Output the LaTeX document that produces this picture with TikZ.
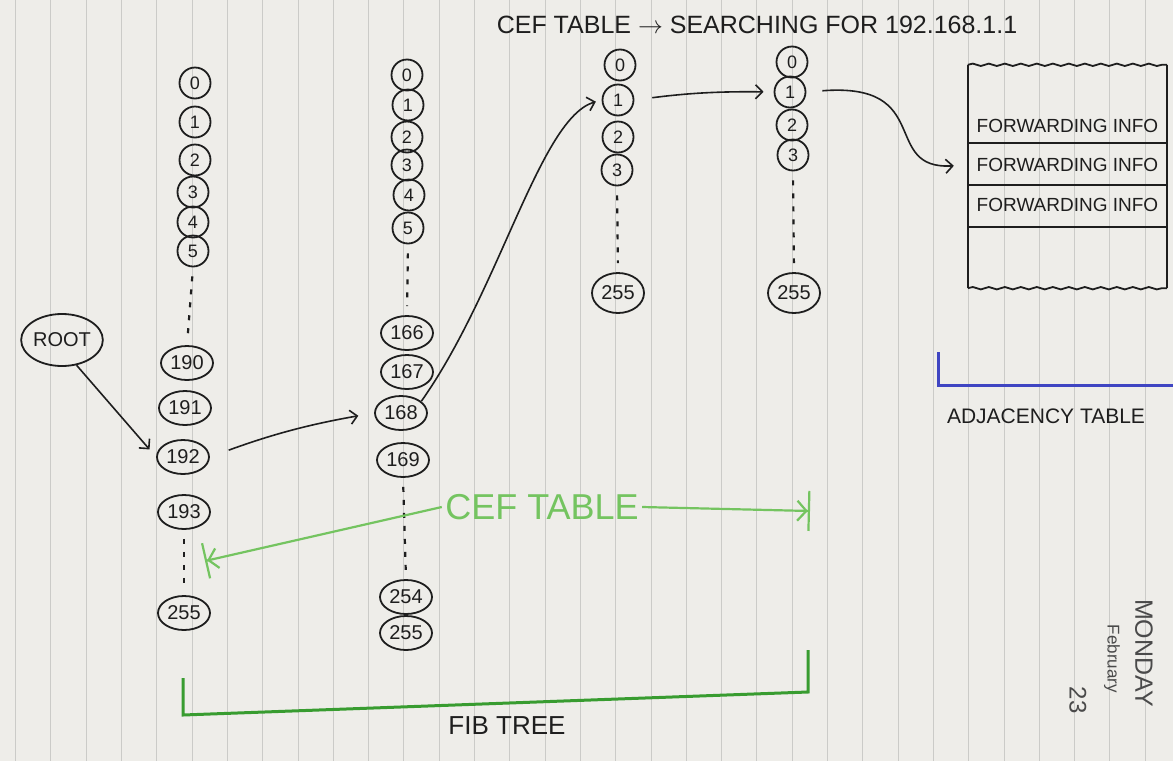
\documentclass[tikz,border=0pt]{standalone}
\usepackage{fontspec}
\setmainfont{Liberation Sans}
\usepackage{tikz}
\usetikzlibrary{shapes.geometric, arrows.meta, positioning, decorations.pathmorphing}
\definecolor{Paper}{HTML}{EEEDE9}
\definecolor{Rule}{HTML}{CBCBC8}
\definecolor{Ink}{HTML}{1E1E1E}
\definecolor{CEF_Green}{HTML}{74C460}
\definecolor{FIB_Green}{HTML}{389C30}
\definecolor{ADJ_Blue}{HTML}{3F45C2}
\definecolor{Print_Gray}{HTML}{4A4A4A}
\newcommand{\hand}[1]{\fontsize{#1}{#1}\selectfont}

\begin{document}
\begin{tikzpicture}[x=1pt, y=-1pt,
  slot/.style={ellipse, draw=Ink, line width=1.8pt, inner sep=0pt, minimum width=31pt, minimum height=31pt, text=Ink, font=\hand{18}},
  bigslot/.style={slot, minimum width=52pt, minimum height=34pt, font=\hand{20}},
  gapline/.style={Ink, line width=2.2pt, dash pattern=on 5pt off 8pt, shorten <=9pt, shorten >=9pt},
  link/.style={Ink, line width=1.6pt, -{Straight Barb[length=7pt,width=14pt]}},
  cefpen/.style={CEF_Green, line width=2.2pt},
  rowtext/.style={text=Ink, font=\hand{19}, minimum width=199pt, inner sep=0pt},
  tablepen/.style={Ink, line width=1.8pt}]
\useasboundingbox (0,0) rectangle (1173,761);
\fill[Paper] (0,0) rectangle (1173,761);
% --- paper rules ---
\foreach \k in {-5,...,27}
  \draw[Rule, line width=0.8pt] ({192+35.3*\k},0) -- ({192+35.3*\k},761);

\node[text=Ink, font=\hand{25}] (title) at (757,25) {CEF TABLE $\rightarrow$ SEARCHING FOR 192.168.1.1};

% --- first octet (192) ---
\foreach \n/\x/\y in {0/195/83, 1/195/122, 2/195/160, 3/193/192, 4/193/222, 5/193/251}
  \node[slot] (a\n) at (\x,\y) {\n};
\foreach \n/\x/\y in {190/187/363, 191/185/408, 192/183/457, 193/184/512, 255/184/613}
  \node[bigslot] (a\n) at (\x,\y) {\n};
\draw[gapline] (a5.south) -- (a190.north);
\draw[gapline] (a193.south) -- (a255.north);

% --- second octet (168) ---
\foreach \n/\x/\y in {0/407/75, 1/408/105, 2/407/137, 3/407/165, 4/409/195, 5/408/228}
  \node[slot] (b\n) at (\x,\y) {\n};
\foreach \n/\x/\y in {166/407/333, 167/407/372, 168/401/413, 169/403/460, 254/406/597, 255/406/633}
  \node[bigslot] (b\n) at (\x,\y) {\n};
\draw[gapline] (b5.south) -- (b166.north);
\draw[gapline] (b169.south) -- (b254.north);

% --- third octet (1) ---
\foreach \n/\x/\y in {0/620/65, 1/618/100, 2/618/137, 3/617/170}
  \node[slot] (c\n) at (\x,\y) {\n};
\node[bigslot, minimum height=40pt] (c255) at (618,293) {255};
\draw[gapline] (c3.south) -- (c255.north);

% --- fourth octet (1) ---
\foreach \n/\x/\y in {0/792/62, 1/790/92, 2/792/125, 3/793/155}
  \node[slot] (d\n) at (\x,\y) {\n};
\node[bigslot, minimum height=40pt] (d255) at (794,293) {255};
\draw[gapline] (d3.south) -- (d255.north);

% --- lookup path ---
\node[slot, minimum width=76pt, minimum height=52pt, font=\hand{20}] (root) at (62,340) {ROOT};
\draw[link, shorten >=10pt] (root.-60) -- (a192.west);
\draw[link, shorten <=20pt, shorten >=16pt] (a192.east) to[bend left=5] (b168.west);
\draw[link, shorten >=6pt] (b168.30) .. controls (500,290) and (540,118) .. (c1.west);
\draw[link, shorten <=18pt, shorten >=10pt] (c1.east) to[bend left=4] (d1.west);

% --- adjacency table ---
\node[minimum width=199pt, minimum height=223pt, inner sep=0pt] (adj) at (1067.5,176.5) {};
\draw[tablepen] (adj.north west) -- (adj.south west);
\draw[tablepen] (adj.north east) -- (adj.south east);
\draw[tablepen, decorate, decoration={snake, amplitude=1.2pt, segment length=16pt}] (adj.north west) -- (adj.north east);
\draw[tablepen, decorate, decoration={snake, amplitude=1.2pt, segment length=16pt}] (adj.south west) -- (adj.south east);
\foreach \y in {143,185,227}
  \draw[tablepen] (968,\y) -- (1167,\y);
\node[rowtext] (fwd1) at (1067.5,126) {FORWARDING INFO};
\node[rowtext] (fwd2) at (1067.5,165) {FORWARDING INFO};
\node[rowtext] (fwd3) at (1067.5,205) {FORWARDING INFO};
\draw[link, shorten <=16pt, shorten >=14pt] (d1.east) .. controls (935,82) and (880,170) .. (fwd2.west);

\draw[ADJ_Blue, line width=3pt] (938,352) -- (938,385) -- (1173,385);
\node[text=Ink, font=\hand{21}] (adjname) at (1046,416) {ADJACENCY TABLE};

% --- CEF span ---
\node[text=CEF_Green, font=\hand{36}] (cefname) at (542,507) {CEF TABLE};
\coordinate (cefL) at (205,561);
\coordinate (cefR) at (810,511);
\draw[cefpen, {Bar[width=36pt]Straight Barb[length=9pt,width=20pt]}-] (cefL) -- (cefname.west);
\draw[cefpen, -{Straight Barb[length=9pt,width=20pt]Bar[width=40pt]}] (cefname.east) -- (cefR);

% --- FIB span ---
\draw[FIB_Green, line width=3pt] (183,678) -- (183,715) -- (808,692) -- (808,650);
\node[text=Ink, font=\hand{26}] (fibname) at (507,726) {FIB TREE};

% --- printed date ---
\node[text=Print_Gray, rotate=-90, font=\hand{25}] (day) at (1144,653) {MONDAY};
\node[text=Print_Gray, rotate=-90, font=\hand{17}] (month) at (1112,659) {February};
\node[text=Print_Gray, rotate=-90, font=\hand{24}] (date) at (1078,700) {23};
\end{tikzpicture}
\end{document}
